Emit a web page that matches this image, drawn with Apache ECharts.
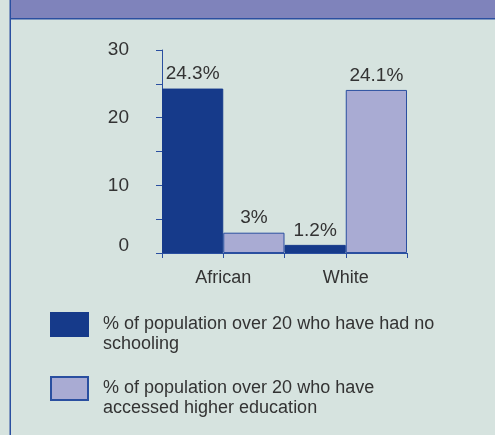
<!DOCTYPE html>
<html>
<head>
<meta charset="utf-8">
<script src="https://cdn.jsdelivr.net/npm/echarts@6/dist/echarts.min.js"></script>
<style>
html,body{margin:0;padding:0;background:#d6e3df;}
#c{width:495px;height:435px;}
</style>
</head>
<body>
<div id="c"></div>
<script>
const categories = ['African', 'White'];
const seriesNames = [
  '% of population over 20 who have had no schooling',
  '% of population over 20 who have accessed higher education'
];
const legendLines = [
  ['% of population over 20 who have had no', 'schooling'],
  ['% of population over 20 who have', 'accessed higher education']
];
const noSchooling = [24.3, 1.2];
const higherEducation = [3, 24.1];
const yTicks = [0, 10, 20, 30];

const FONT = '"Liberation Sans", Arial, sans-serif';
const AXIS = '#2a4fa0';
const DARK = '#163a8a';
const LIGHT = '#a9abd3';
const TXT = '#333333';

const chart = echarts.init(document.getElementById('c'));
const legendBase = {
  orient: 'vertical', left: 50, padding: 0,
  icon: 'rect', itemWidth: 37, itemHeight: 23,
  textStyle: {
    fontFamily: FONT, fontSize: 18, color: TXT, lineHeight: 20,
    rich: { t: { fontFamily: FONT, fontSize: 18, color: TXT, lineHeight: 20, padding: [0, 0, 0, 10] } }
  },
  formatter: n => '{t| }\n' + legendLines[seriesNames.indexOf(n)].map(s => '{t|' + s + '}').join('\n'),
  selectedMode: false
};
chart.setOption({
  backgroundColor: '#d6e3df',
  animation: false,
  textStyle: { fontFamily: FONT },
  grid: { left: 162, right: 88, top: 50, bottom: 182, containLabel: false },
  legend: [
    Object.assign({}, legendBase, { top: 294.5, data: [seriesNames[0]] }),
    Object.assign({}, legendBase, { top: 358.5, data: [seriesNames[1]] })
  ],
  xAxis: [
    {
      type: 'category', data: categories,
      axisLine: { lineStyle: { color: AXIS, width: 1 } },
      axisTick: { show: true, length: 5, lineStyle: { color: AXIS } },
      axisLabel: { fontSize: 18, color: TXT, margin: 16, fontFamily: FONT }
    },
    {
      type: 'category', data: ['a', 'b', 'c', 'd'], position: 'bottom',
      axisLine: { show: false },
      axisTick: { show: true, length: 5, lineStyle: { color: AXIS } },
      axisLabel: { show: false }
    }
  ],
  yAxis: {
    type: 'value', min: 0, max: 30, interval: 5,
    axisLine: { show: true, lineStyle: { color: AXIS, width: 1 } },
    axisTick: { show: true, length: 6, lineStyle: { color: AXIS } },
    splitLine: { show: false },
    axisLabel: {
      margin: 33, fontSize: 19, color: TXT, fontFamily: FONT,
      formatter: v => yTicks.indexOf(v) < 0 ? '' : (v === 0 ? '{z|0}' : String(v)),
      rich: { z: { fontSize: 19, color: TXT, fontFamily: FONT, padding: [0, 0, 14, 0] } }
    }
  },
  series: [
    {
      name: seriesNames[0], type: 'bar', data: noSchooling,
      barGap: '0%', barCategoryGap: '0%',
      itemStyle: { color: DARK, borderColor: DARK, borderWidth: 1 },
      label: { show: true, position: 'top', distance: 5, formatter: '{c}%', fontSize: 19, color: TXT, fontFamily: FONT }
    },
    {
      name: seriesNames[1], type: 'bar', data: higherEducation,
      barGap: '0%', barCategoryGap: '0%',
      itemStyle: { color: LIGHT, borderColor: AXIS, borderWidth: 1 },
      label: { show: true, position: 'top', distance: 5, formatter: '{c}%', fontSize: 19, color: TXT, fontFamily: FONT }
    }
  ],
  graphic: [
    { type: 'rect', shape: { x: 11, y: 0, width: 484, height: 18 }, style: { fill: '#7f83bb' }, z: 10 },
    { type: 'rect', shape: { x: 11, y: 18, width: 484, height: 1.5 }, style: { fill: AXIS }, z: 10 },
    { type: 'rect', shape: { x: 9.5, y: 0, width: 1.5, height: 435 }, style: { fill: AXIS }, z: 10 }
  ]
});
</script>
</body>
</html>
